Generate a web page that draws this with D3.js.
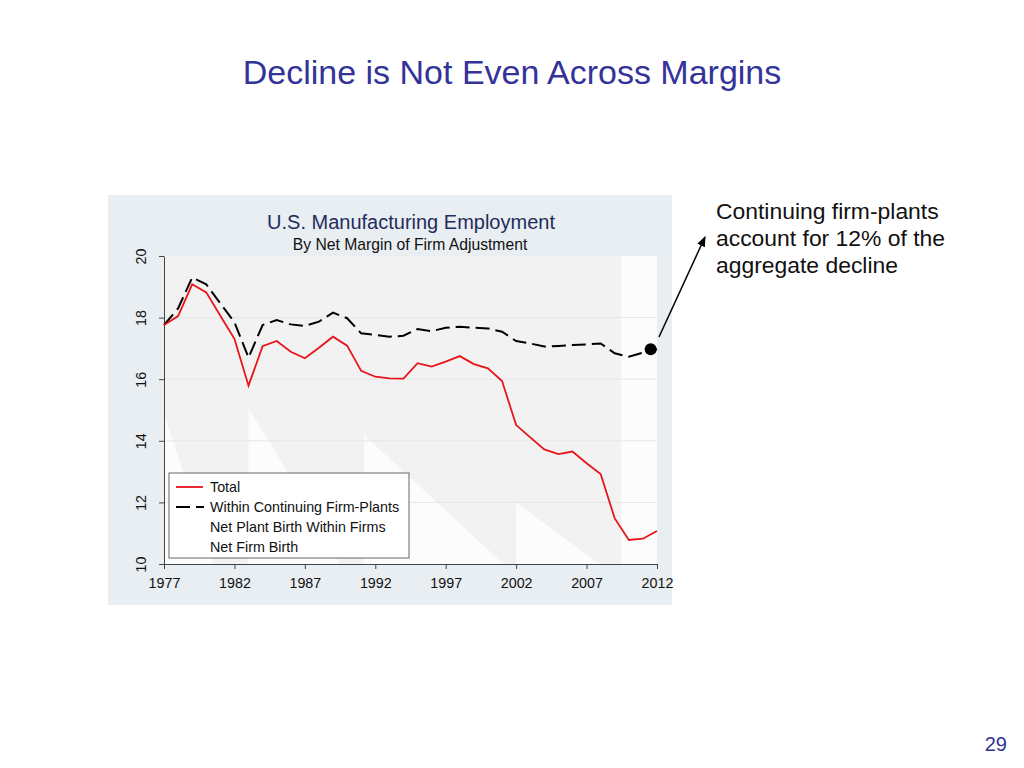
<!DOCTYPE html>
<html><head><meta charset="utf-8">
<script src="https://cdn.jsdelivr.net/npm/d3@7"></script>
<style>body{margin:0;background:#fff;} svg, svg text{font-family:'Liberation Sans', Arimo, Arial, Helvetica, sans-serif;}</style>
</head><body>
<svg id="c" width="1024" height="768"></svg>
<script>
const years = d3.range(1977, 2013);
const total = [17.76,18.05,19.08,18.82,18.06,17.31,15.79,17.07,17.24,16.89,16.68,17.02,17.38,17.09,16.27,16.08,16.03,16.02,16.52,16.41,16.57,16.75,16.49,16.35,15.94,14.51,14.11,13.72,13.57,13.65,13.27,12.92,11.48,10.78,10.82,11.07];
const continuing = [17.76,18.30,19.30,19.08,18.46,17.85,16.70,17.76,17.92,17.78,17.73,17.87,18.16,17.98,17.49,17.44,17.38,17.41,17.63,17.56,17.67,17.70,17.67,17.65,17.54,17.24,17.16,17.06,17.08,17.11,17.13,17.16,16.84,16.73,16.86,16.97];
const xTicks = [1977,1982,1987,1992,1997,2002,2007,2012];
const yTicks = [10,12,14,16,18,20];
const legendLabels = ["Total","Within Continuing Firm-Plants","Net Plant Birth Within Firms","Net Firm Birth"];
const noteLines = ["Continuing firm-plants","account for 12% of the","aggregate decline"];

const FF = "'Liberation Sans', Arimo, Arial, Helvetica, sans-serif";
const svg = d3.select("#c").attr("font-family", FF);
const x = d3.scaleLinear().domain([1977,2012]).range([164,657]);
const y = d3.scaleLinear().domain([10,20]).range([564,256]);

// slide title
svg.append("text").attr("x",512).attr("y",84).attr("text-anchor","middle")
  .attr("font-size",34).attr("fill","#333399").text("Decline is Not Even Across Margins");
svg.append("text").attr("x",1007).attr("y",751).attr("text-anchor","end")
  .attr("font-size",20).attr("fill","#333399").text("29");

// graph region
svg.append("rect").attr("x",108).attr("y",195).attr("width",564).attr("height",410).attr("fill","#e9eef2");
// plot region
svg.append("rect").attr("x",x(1977)).attr("y",y(20)).attr("width",x(2012)-x(1977)).attr("height",y(10)-y(20)).attr("fill","#f2f2f2");
// white decorative patches (in data units)
const patches = [
  [[1977,14.9],[1977,10],[1980.5,10]],
  [[1983,15.05],[1983,10],[1989.5,10],[1985.5,13.2]],
  [[1991.2,14.2],[1991.2,10],[2001.1,10]],
  [[2002,12.0],[2002,10],[2007.9,10]],
  [[2009.45,20],[2012,20],[2012,10],[2009.45,10]]
];
svg.selectAll("polygon.p").data(patches).enter().append("polygon")
  .attr("points",d=>d.map(p=>x(p[0])+","+y(p[1])).join(" ")).attr("fill","#fcfcfc");
// gridlines
svg.selectAll("line.g").data(yTicks.filter(v=>v>10&&v<20)).enter().append("line")
  .attr("x1",x(1977)).attr("x2",x(2012)).attr("y1",d=>y(d)).attr("y2",d=>y(d))
  .attr("stroke","#e6e6e6").attr("stroke-width",1);

// chart titles
svg.append("text").attr("x",411).attr("y",229).attr("text-anchor","middle")
  .attr("font-size",20).attr("fill","#1e2d5c").text("U.S. Manufacturing Employment");
svg.append("text").attr("x",410).attr("y",250).attr("text-anchor","middle")
  .attr("font-size",15.7).attr("fill","#111").text("By Net Margin of Firm Adjustment");

// axes
const ax = svg.append("g").attr("transform",`translate(0,${y(10)})`)
  .call(d3.axisBottom(x).tickValues(xTicks).tickFormat(d3.format("d")).tickSize(5).tickSizeOuter(0));
ax.attr("font-family",FF);
ax.select(".domain").attr("stroke","#444");
ax.selectAll(".tick line").attr("stroke","#444");
ax.selectAll("text").attr("font-size",14.3).attr("fill","#111").attr("dy","1.1em");
const ay = svg.append("g").attr("transform",`translate(${x(1977)},0)`)
  .call(d3.axisLeft(y).tickValues(yTicks).tickSize(5).tickSizeOuter(0));
ay.attr("font-family",FF);
ay.select(".domain").attr("stroke","#444");
ay.selectAll(".tick line").attr("stroke","#444");
ay.selectAll("text").attr("font-size",14.3).attr("fill","#111")
  .attr("x",0).attr("dy",0).attr("text-anchor","middle").attr("transform","translate(-22,0) rotate(-90)").attr("dominant-baseline","middle");

// lines
const line = d3.line().x((d,i)=>x(years[i])).y(d=>y(d));
svg.append("path").datum(continuing).attr("d",line).attr("fill","none").attr("stroke","#000")
  .attr("stroke-width",2).attr("stroke-dasharray","14,6");
svg.append("path").datum(total).attr("d",line).attr("fill","none").attr("stroke","#e8141a")
  .attr("stroke-width",1.8);

// legend
const lg = svg.append("g");
lg.append("rect").attr("x",169).attr("y",473).attr("width",240).attr("height",85).attr("fill","#fff").attr("stroke","#666").attr("stroke-width",1);
legendLabels.forEach((t,i)=>{
  const yy = 487 + i*20;
  lg.append("text").attr("x",210).attr("y",yy+5).attr("font-size",14.3).attr("fill","#111").text(t);
});
lg.append("line").attr("x1",176).attr("x2",203).attr("y1",487).attr("y2",487).attr("stroke","#e8141a").attr("stroke-width",1.8);
lg.append("line").attr("x1",176).attr("x2",204).attr("y1",507).attr("y2",507).attr("stroke","#000").attr("stroke-width",2).attr("stroke-dasharray","14,6");

// annotation
svg.append("defs").append("marker").attr("id","ah").attr("viewBox","0 0 10 10").attr("refX",9).attr("refY",5)
  .attr("markerWidth",7).attr("markerHeight",7).attr("orient","auto")
  .append("path").attr("d","M0,1 L10,5 L0,9 z").attr("fill","#000");
svg.append("line").attr("x1",659).attr("y1",337).attr("x2",705).attr("y2",237)
  .attr("stroke","#000").attr("stroke-width",1.5).attr("marker-end","url(#ah)");
svg.append("circle").attr("cx",x(2011.55)).attr("cy",y(continuing[continuing.length-1])).attr("r",6).attr("fill","#000");
noteLines.forEach((t,i)=>{
  svg.append("text").attr("x",716).attr("y",219+i*27).attr("font-size",22.9).attr("fill","#111").text(t);
});
</script>
</body></html>
